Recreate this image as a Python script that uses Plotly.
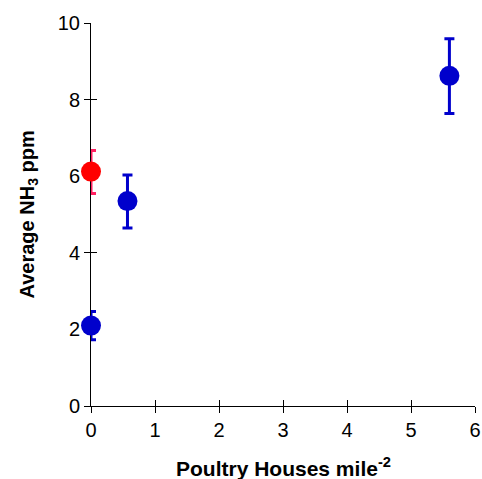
import plotly.graph_objects as go

# Data
red_x = [0.0]
red_y = [6.12]
red_err_plus = [0.55]
red_err_minus = [0.57]

blue_x = [0.0, 0.57, 5.6]
blue_y = [2.1, 5.35, 8.62]
blue_err_plus = [0.37, 0.68, 0.97]
blue_err_minus = [0.37, 0.70, 0.98]

x_ticks = [0, 1, 2, 3, 4, 5, 6]
y_ticks = [0, 2, 4, 6, 8, 10]

FONT = "Liberation Sans, Arial, sans-serif"

fig = go.Figure()
# invisible trace on base axes (labels + outside ticks)
fig.add_trace(go.Scatter(x=[0, 6], y=[0, 10], mode="markers", marker=dict(opacity=0),
                         showlegend=False, hoverinfo="skip"))
fig.add_trace(go.Scatter(
    x=blue_x, y=blue_y, mode="markers", xaxis="x2", yaxis="y2",
    marker=dict(color="#0000cc", size=20),
    error_y=dict(type="data", symmetric=False, array=blue_err_plus,
                 arrayminus=blue_err_minus, color="#0000cc", thickness=3, width=5),
    cliponaxis=False, showlegend=False,
))
fig.add_trace(go.Scatter(
    x=red_x, y=red_y, mode="markers", xaxis="x2", yaxis="y2",
    marker=dict(color="#ff0000", size=20),
    error_y=dict(type="data", symmetric=False, array=red_err_plus,
                 arrayminus=red_err_minus, color="#ff2060", thickness=3, width=5),
    cliponaxis=False, showlegend=False,
))

axis_common = dict(showgrid=False, zeroline=False, showline=True, linecolor="black",
                   linewidth=1, tickcolor="black", ticklen=6, tickwidth=1,
                   automargin=False, layer="below traces", ticklabeloverflow="allow",
                   tickfont=dict(family=FONT, size=20, color="black"))
overlay_common = dict(showticklabels=False, showgrid=False, zeroline=False, showline=False,
                      tickcolor="black", ticklen=6, tickwidth=1, ticks="inside",
                      automargin=False, layer="below traces")

fig.update_layout(
    width=482, height=479,
    margin=dict(l=91, r=7, t=23, b=73),
    plot_bgcolor="white", paper_bgcolor="white",
    xaxis=dict(range=[0, 6], tickvals=x_ticks, ticks="outside", **axis_common),
    yaxis=dict(range=[0, 10], tickvals=y_ticks, ticks="outside", **axis_common),
    xaxis2=dict(range=[0, 6], tickvals=x_ticks, overlaying="x", side="bottom",
                anchor="y2", **overlay_common),
    yaxis2=dict(range=[0, 10], tickvals=y_ticks, overlaying="y", side="left",
                anchor="x2", **overlay_common),
    annotations=[
        dict(text="<b>Poultry Houses mile<sup>-2</sup></b>", xref="paper", yref="paper",
             x=0.5, y=0, xanchor="center", yanchor="middle", yshift=-61, showarrow=False,
             font=dict(family=FONT, size=21, color="black")),
        dict(text="<b>Average NH<sub>3</sub> ppm</b>", xref="paper", yref="paper",
             x=0, y=0.5, xanchor="center", yanchor="middle", xshift=-63, textangle=-90,
             showarrow=False, font=dict(family=FONT, size=20, color="black")),
    ],
)

fig.write_html("out.html", config={"displayModeBar": False},
               post_script="document.body.style.margin='0';document.body.style.padding='0';")
